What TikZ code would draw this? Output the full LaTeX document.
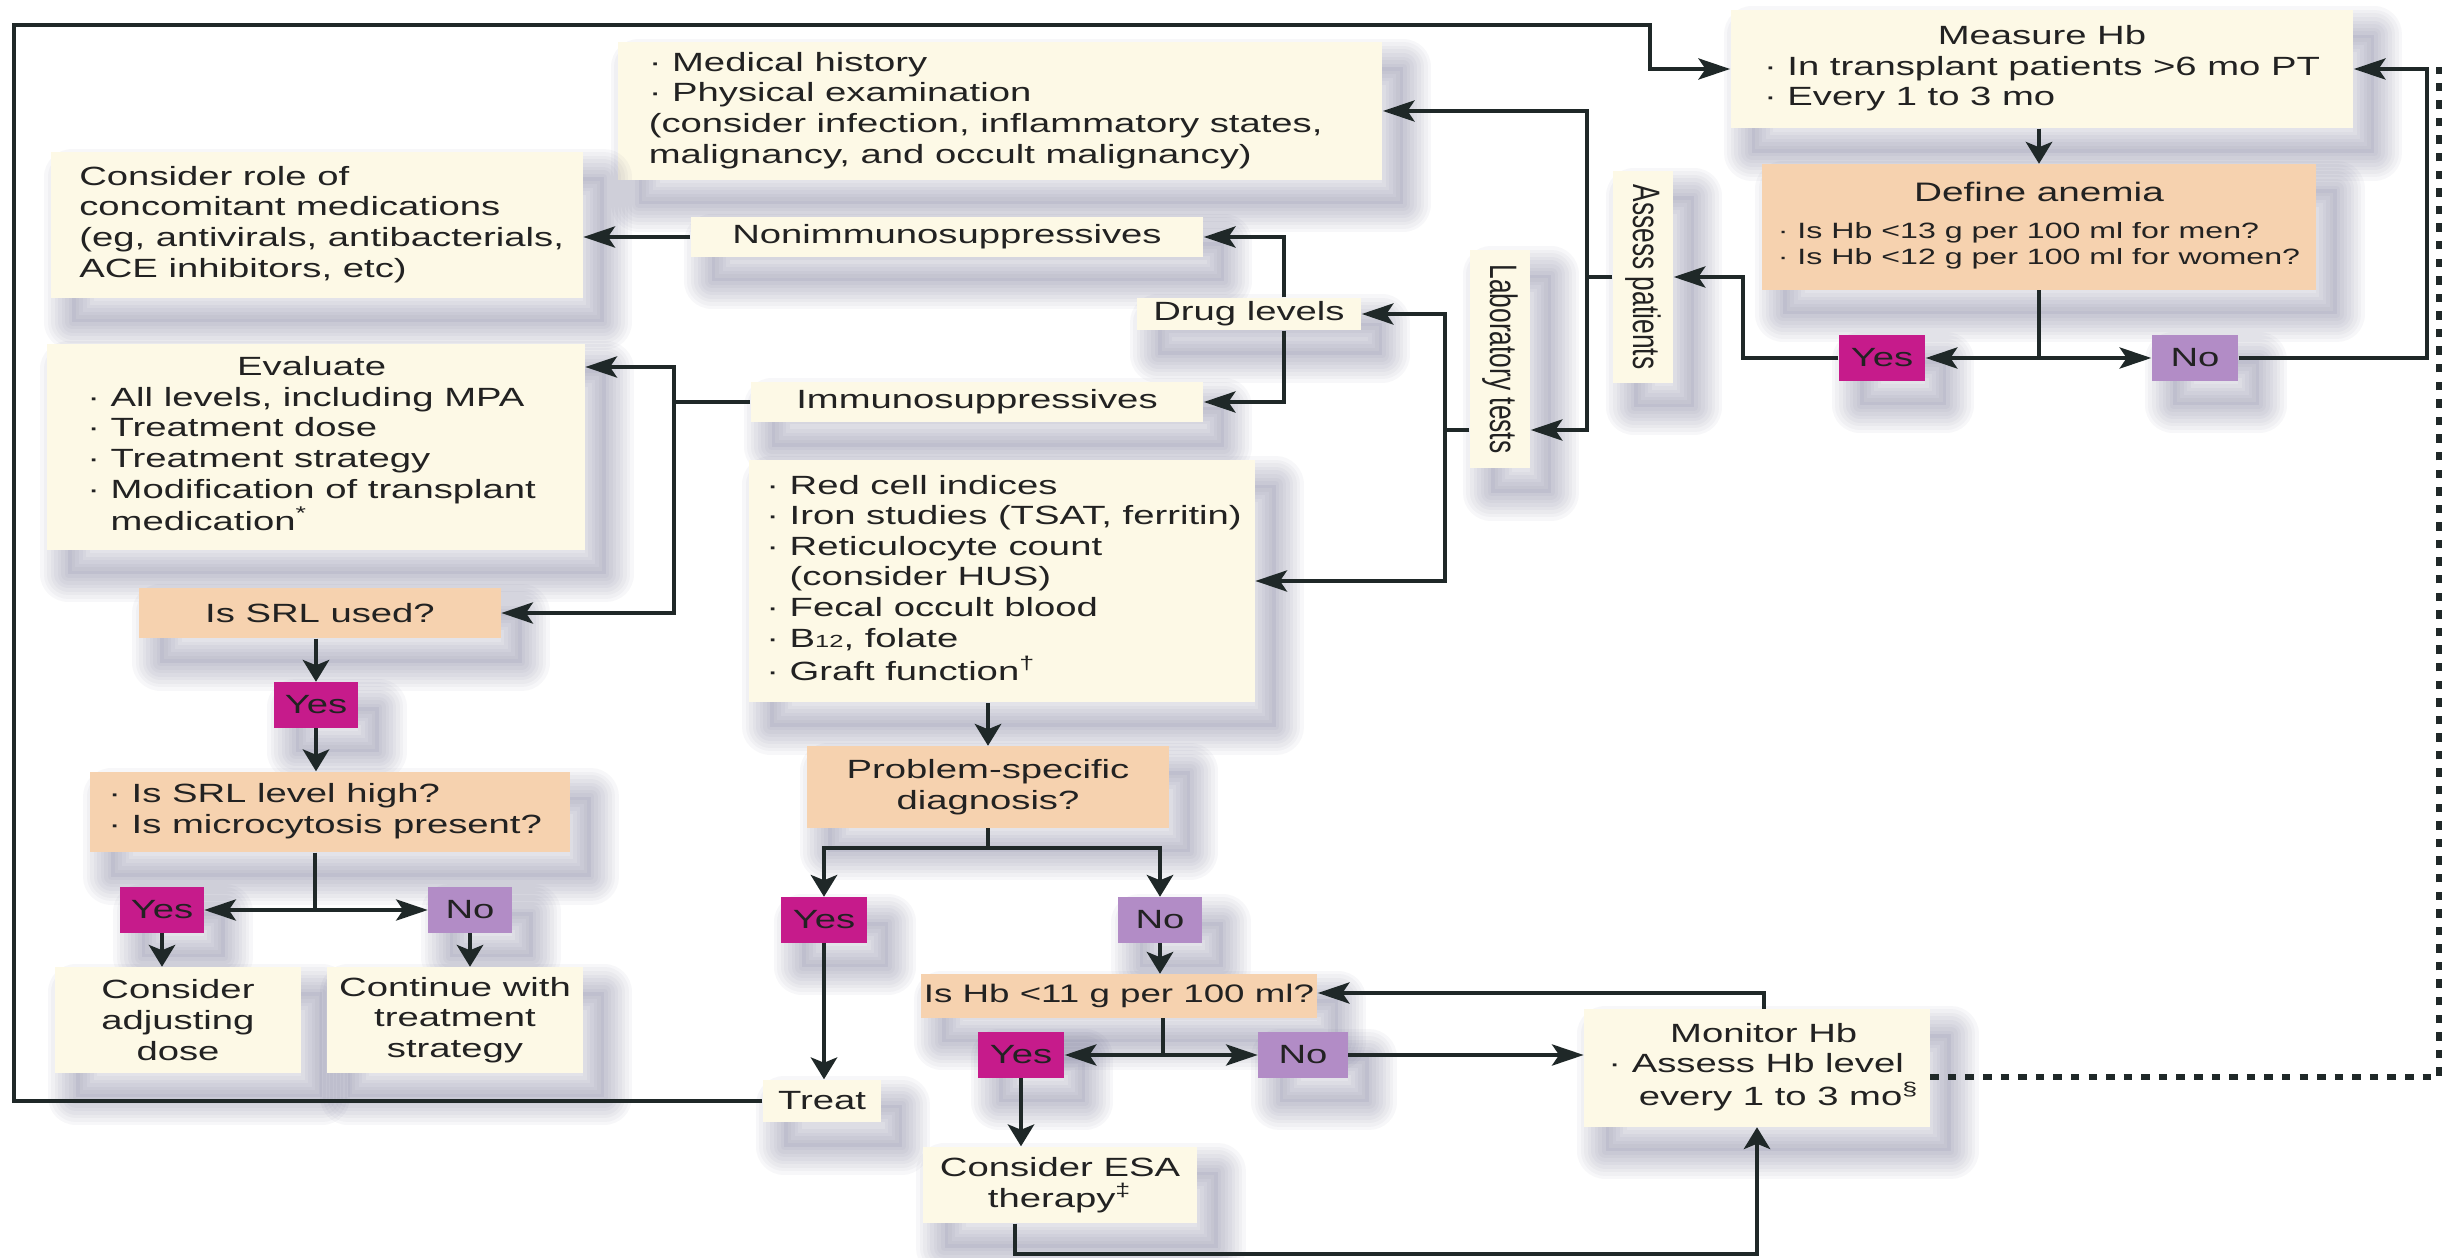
\documentclass[tikz,border=0pt]{standalone}
\usepackage{fontspec}
\usepackage{graphicx}
\setmainfont{Liberation Sans}[FakeStretch=1.45]
\newfontfamily\plainsans{Liberation Sans}
\usetikzlibrary{arrows.meta}
\definecolor{cream}{HTML}{FDF9E6}
\definecolor{peach}{HTML}{F6D2AF}
\definecolor{yesc}{HTML}{C61B8B}
\definecolor{noc}{HTML}{B28CC6}
\definecolor{linec}{HTML}{1F2828}
\definecolor{textc}{HTML}{222222}
\definecolor{shadowc}{HTML}{55557F}
\newcommand{\rottext}[1]{\scalebox{1}[1.45]{\plainsans #1}}
\pgfdeclarelayer{bg}\pgfsetlayers{bg,main}
\begin{document}
\begin{tikzpicture}[x=0.01cm, y=-0.01cm,
  every node/.style={font=\fontsize{7.5}{8.7}\selectfont, text=textc, inner sep=0pt},
  shl/.style={preaction={draw=shadowc, line width=#1, opacity=0.045, line join=round, transform canvas={shift={(6pt,-7pt)}}}},
  sh/.style={shl=16pt, shl=14pt, shl=12pt, shl=10pt, shl=8pt, shl=6pt, shl=4pt, shl=2pt,
    preaction={fill=shadowc, opacity=0.08, transform canvas={shift={(6pt,-7pt)}}}},
  cbox/.style={sh, fill=cream, align=center},
  pbox/.style={sh, fill=peach, align=center},
  yesbox/.style={sh, fill=yesc, align=center, minimum width=0.86cm, minimum height=0.45cm},
  nobox/.style={sh, fill=noc, align=center, minimum width=0.86cm, minimum height=0.45cm},
  conn/.style={draw=linec, line width=1.1pt},
  ha/.style={-{Stealth[length=9pt,width=6pt,inset=2pt]}},
  va/.style={-{Stealth[length=6.2pt,width=7.5pt,inset=1.5pt]}},
  dotline/.style={draw=linec, line width=1.6pt, dash pattern=on 2.4pt off 2.6pt}
]
\begin{pgfonlayer}{bg}
\fill[white] (0,0) rectangle (2450,1258);
\end{pgfonlayer}
\useasboundingbox (0,0) rectangle (2450,1258);

% ---------- nodes ----------
\node[cbox, minimum width=6.22cm, minimum height=1.18cm] (measure) at (2042,69)
  {\begin{tabular}{@{}l@{\ }l@{}}\multicolumn{2}{@{}c@{}}{Measure Hb}\\ · & In transplant patients >6 mo PT\\ · & Every 1 to 3 mo\end{tabular}};
\node[pbox, minimum width=5.53cm, minimum height=1.25cm, font=\fontsize{6.3}{7.3}\selectfont] (define) at (2039,227)
  {\begin{tabular}{@{}l@{\ }l@{}}\multicolumn{2}{@{}c@{}}{\fontsize{7.6}{9}\selectfont Define anemia}\\[3.5pt] · & Is Hb <13 g per 100 ml for men?\\ · & Is Hb <12 g per 100 ml for women?\end{tabular}};
\node[yesbox] (yes1) at (1882,358) {Yes};
\node[nobox] (no1) at (2195,358) {No};
\node[cbox, minimum width=0.6cm, minimum height=2.11cm] (assess) at (1643,277) {\rotatebox{-90}{\rottext{Assess patients}}};
\node[cbox, minimum width=0.6cm, minimum height=2.18cm] (lab) at (1500,359) {\rotatebox{-90}{\rottext{Laboratory tests}}};
\node[cbox, minimum width=7.64cm, minimum height=1.37cm, inner xsep=0.31cm] (medhist) at (1000,111)
  {\makebox[7.02cm][l]{\begin{tabular}{@{}l@{}}· Medical history\\ · Physical examination\\ (consider infection, inflammatory states,\\ malignancy, and occult malignancy)\end{tabular}}};
\node[cbox, minimum width=5.31cm, minimum height=1.45cm, inner xsep=0.28cm] (consider) at (317,225)
  {\makebox[4.75cm][l]{\begin{tabular}{@{}l@{}}Consider role of\\ concomitant medications\\ (eg, antivirals, antibacterials,\\ ACE inhibitors, etc)\end{tabular}}};
\node[cbox, minimum width=5.12cm, minimum height=0.39cm] (nonimm) at (947,237) {Nonimmunosuppressives};
\node[cbox, minimum width=2.24cm, minimum height=0.32cm] (druglv) at (1249,314) {Drug levels};
\node[cbox, minimum width=4.52cm, minimum height=0.40cm] (immuno) at (977,402) {Immunosuppressives};
\node[cbox, minimum width=5.37cm, minimum height=2.05cm, inner xsep=0.40cm] (evaluate) at (316,447)
  {\makebox[4.57cm][l]{\begin{tabular}{@{}l@{\ }l@{}}\multicolumn{2}{@{}c@{}}{Evaluate}\\ · & All levels, including MPA\\ · & Treatment dose\\ · & Treatment strategy\\ · & Modification of transplant\\ & medication\textsuperscript{*}\end{tabular}}};
\node[pbox, minimum width=3.61cm, minimum height=0.50cm] (srlused) at (320,613) {Is SRL used?};
\node[yesbox, minimum width=0.83cm] (yes2) at (316,705) {Yes};
\node[pbox, minimum width=4.79cm, minimum height=0.80cm, inner xsep=0.18cm] (srlhigh) at (330,812)
  {\makebox[4.43cm][l]{\begin{tabular}{@{}l@{\ }l@{}}· & Is SRL level high?\\ · & Is microcytosis present?\end{tabular}}};
\node[yesbox, minimum width=0.83cm] (yes3) at (162,910) {Yes};
\node[nobox, minimum width=0.83cm] (no3) at (470,910) {No};
\node[cbox, minimum width=2.46cm, minimum height=1.05cm] (adjust) at (178,1020) {Consider\\adjusting\\dose};
\node[cbox, minimum width=2.56cm, minimum height=1.05cm] (continue) at (455,1020) {Continue with\\treatment\\strategy};
\node[cbox, minimum width=5.05cm, minimum height=2.42cm, inner xsep=0.17cm] (redcell) at (1002,581)
  {\makebox[4.71cm][l]{\begin{tabular}{@{}l@{\ }l@{}}· & Red cell indices\\ · & Iron studies (TSAT, ferritin)\\ · & Reticulocyte count\\ & (consider HUS)\\ · & Fecal occult blood\\ · & B{\fontsize{5}{5}\selectfont 12}, folate\\ · & Graft function\textsuperscript{†}\end{tabular}}};
\node[pbox, minimum width=3.62cm, minimum height=0.81cm] (problem) at (988,787) {Problem-specific\\diagnosis?};
\node[yesbox] (yes4) at (824,920) {Yes};
\node[nobox, minimum width=0.83cm] (no4) at (1160,920) {No};
\node[cbox, minimum width=1.18cm, minimum height=0.42cm] (treat) at (822,1101) {Treat};
\node[pbox, minimum width=3.96cm, minimum height=0.43cm, font=\fontsize{7.2}{8.4}\selectfont] (ishb11) at (1119,996) {Is Hb <11 g per 100 ml?};
\node[yesbox] (yes5) at (1021,1055) {Yes};
\node[nobox, minimum width=0.89cm] (no5) at (1303,1055) {No};
\node[cbox, minimum width=2.73cm, minimum height=0.76cm] (esa) at (1060,1185) {Consider ESA\\therapy\textsuperscript{‡}};
\node[cbox, minimum width=3.45cm, minimum height=1.17cm, inner xsep=0.24cm] (monitor) at (1757,1068)
  {\makebox[2.97cm][l]{\begin{tabular}{@{}l@{\ }l@{}}\multicolumn{2}{@{}c@{}}{Monitor Hb}\\ · & Assess Hb level\\ & \hspace{2pt}every 1 to 3 mo\textsuperscript{§}\end{tabular}}};

% ---------- helper coordinates ----------
\coordinate (oTL) at (14,25);
\coordinate (oBL) at (14,1101);
\coordinate (oJ) at (1650,25);
\coordinate (c1) at (1743,358);
\coordinate (c2) at (2427,358);
\coordinate (d1) at (2439,1077);
\coordinate (d2) at (2439,67);
\coordinate (jA) at (1587,277);
\coordinate (y430) at (0,430);
\coordinate (jL) at (1445,430);
\coordinate (jD) at (1284,314);
\coordinate (jI) at (674,402);
\coordinate (y367) at (0,367);
\coordinate (j3) at (315,910);
\coordinate (y848) at (0,848);
\coordinate (j5) at (1163,1055);
\coordinate (eb) at (1015,1254);
\coordinate (mt) at (1764,993);

% ---------- connectors ----------
\draw[conn, ha] (treat.west) -- (oBL) -- (oTL) -- (oJ) |- (measure.west);
\draw[conn, va] (define.north |- measure.south) -- (define.north);
\draw[conn] (define.south) -- (define.south |- yes1.east);
\draw[conn, ha] (define.south |- yes1.east) -- (yes1.east);
\draw[conn, ha] (define.south |- no1.west) -- (no1.west);
\draw[conn, ha] (yes1.west) -- (c1) |- (assess.east);
\draw[conn, ha] (no1.east) -- (c2) |- (measure.east);
\draw[dotline] (monitor.east |- d1) -- (d1) -- (d2);

\draw[conn] (assess.west) -- (jA);
\draw[conn, ha] (jA) |- (medhist.east);
\draw[conn, ha] (jA) |- (lab.east |- y430);

\draw[conn] (lab.west |- y430) -- (jL);
\draw[conn, ha] (jL) |- (druglv.east);
\draw[conn, ha] (jL) |- (redcell.east);

\draw[conn, ha] (druglv.north -| jD) |- (nonimm.east);
\draw[conn, ha] (druglv.south -| jD) |- (immuno.east);

\draw[conn, ha] (nonimm.west) -- (nonimm.west -| consider.east);

\draw[conn] (immuno.west) -- (jI);
\draw[conn, ha] (jI) |- (evaluate.east |- y367);
\draw[conn, ha] (jI) |- (srlused.east);

\draw[conn, va] (yes2.north |- srlused.south) -- (yes2.north);
\draw[conn, va] (yes2.south) -- (yes2.south |- srlhigh.north);
\draw[conn] (j3 |- srlhigh.south) -- (j3);
\draw[conn, ha] (j3) -- (yes3.east);
\draw[conn, ha] (j3) -- (no3.west);
\draw[conn, va] (yes3.south) -- (yes3.south |- adjust.north);
\draw[conn, va] (no3.south) -- (no3.south |- continue.north);

\draw[conn, va] (problem.north |- redcell.south) -- (problem.north);
\draw[conn, va] (problem.south) -- (problem.south |- y848) -| (yes4.north);
\draw[conn, va] (problem.south |- y848) -| (no4.north);
\draw[conn, va] (yes4.south) -- (yes4.south |- treat.north);
\draw[conn, va] (no4.south) -- (no4.south |- ishb11.north);

\draw[conn] (j5 |- ishb11.south) -- (j5);
\draw[conn, ha] (j5) -- (yes5.east);
\draw[conn, ha] (j5) -- (no5.west);
\draw[conn, ha] (no5.east) -- (no5.east -| monitor.west);
\draw[conn, va] (yes5.south) -- (yes5.south |- esa.north);
\draw[conn, va] (esa.south -| eb) -- (eb) -| (monitor.south);
\draw[conn, ha] (monitor.north -| mt) -- (mt) -- (mt -| ishb11.east);
\end{tikzpicture}
\end{document}
